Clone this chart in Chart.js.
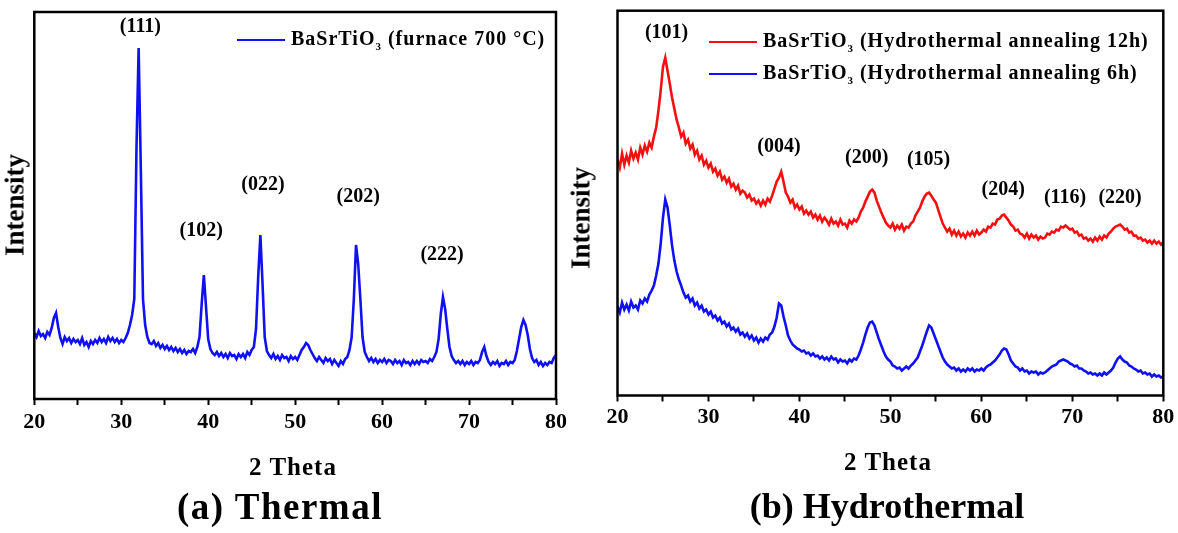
<!DOCTYPE html>
<html>
<head>
<meta charset="utf-8">
<script src="https://cdn.jsdelivr.net/npm/chart.js@4.4.0/dist/chart.umd.min.js"></script>
<style>
  html, body { margin: 0; padding: 0; background: #fff; }
  #wrap { position: relative; width: 1178px; height: 533px; overflow: hidden;
          font-family: "Liberation Serif", "Times New Roman", serif; font-weight: bold; color: #000; }
  canvas { position: absolute; top: 0; }
  .lbl { position: absolute; transform: translate(-50%, -50%); white-space: nowrap; line-height: 1; }
  .rot { transform: translate(-50%, -50%) rotate(-90deg); }
  .leg { position: absolute; white-space: nowrap; font-size: 20px; letter-spacing: 1px; line-height: 20px; transform: translateY(-50%); }
  .leg i { display: inline-block; width: 48px; height: 0; border-top: 2px solid; vertical-align: middle; margin-right: 6px; }
  .leg sub { font-size: 11px; vertical-align: -5px; line-height: 0; }
</style>
</head>
<body>
<div id="wrap">
  <canvas id="thermalChart" width="590" height="533" style="left:0"></canvas>
  <canvas id="hydroChart" width="588" height="533" style="left:590px"></canvas>

  <div class="lbl rot" style="left:15px; top:205px; font-size:27px;">Intensity</div>
  <div class="lbl rot" style="left:581px; top:218px; font-size:27px;">Intensity</div>
  <div class="lbl" style="left:293px; top:466px; font-size:25px; letter-spacing:1px;">2 Theta</div>
  <div class="lbl" style="left:888px; top:461px; font-size:25px; letter-spacing:1px;">2 Theta</div>
  <div class="lbl" style="left:280px; top:506px; font-size:37px; letter-spacing:1.5px;">(a) Thermal</div>
  <div class="lbl" style="left:887px; top:506px; font-size:36px;">(b) Hydrothermal</div>

  <div class="leg" style="left:237px; top:38px;"><i style="color:#1010f4"></i>BaSrTiO<sub>3</sub> (furnace 700 °C)</div>
  <div class="leg" style="left:709px; top:40px;"><i style="color:#f41010"></i>BaSrTiO<sub>3</sub> (Hydrothermal annealing 12h)</div>
  <div class="leg" style="left:709px; top:72px;"><i style="color:#1010f4"></i>BaSrTiO<sub>3</sub> (Hydrothermal annealing 6h)</div>
</div>
<script>
'use strict';

// sampling grid, 2 theta from 20 to 80 in 0.25 steps
const angles = Array.from({ length: 241 }, (_, i) => 20 + i * 0.25);
const xTicks = [20, 30, 40, 50, 60, 70, 80];

// intensities (arbitrary units), one row per degree
const thermal = [
    66, 62, 68, 63,  65, 61, 67, 64,  71, 81, 86, 72,  61, 55, 62, 58,
    61, 56, 60, 57,  59, 55, 61, 54,  57, 52, 58, 55,  59, 56, 61, 57,
    60, 56, 62, 58,  61, 57, 60, 56,  59, 57, 61, 66,  74, 84, 100, 250,
    351, 230, 100, 74,  62, 56, 55, 58,  53, 56, 51, 54,  50, 53, 49, 52,
    48, 51, 47, 50,  46, 49, 45, 48,  47, 50, 46, 52,  62, 95, 124, 92,
    60, 50, 46, 44,  47, 43, 46, 42,  45, 41, 46, 43,  44, 40, 45, 42,
    45, 41, 47, 44,  49, 52, 70, 122,  164, 115, 62, 48,  44, 41, 45, 40,
    43, 39, 44, 41,  42, 38, 43, 40,  42, 39, 44, 49,  52, 56, 54, 49,
    45, 41, 38, 42,  39, 36, 41, 38,  40, 35, 39, 36,  33, 38, 35, 40,
    42, 49, 62, 100,  154, 135, 100, 62,  47, 42, 38, 41,  37, 40, 36, 39,
    37, 40, 36, 39,  38, 35, 39, 36,  38, 34, 39, 36,  37, 34, 38, 35,
    38, 35, 39, 37,  38, 36, 40, 38,  42, 47, 60, 85,  102, 90, 70, 52,
    43, 39, 36, 38,  35, 38, 34, 37,  35, 38, 34, 37,  36, 39, 47, 52,
    43, 37, 34, 37,  35, 38, 33, 36,  35, 38, 34, 37,  36, 39, 48, 60,
    72, 79, 74, 64,  50, 41, 37, 39,  34, 37, 33, 36,  34, 37, 36, 41,
    44
];

const hydro12h = [
    236, 228, 242, 231,  240, 233, 245, 237,  243, 236, 248, 241,  250, 244, 253, 248,
    259, 268, 285, 305,  329, 338, 325, 312,  298, 287, 276, 268,  259, 263, 252, 256,
    247, 251, 241, 245,  236, 240, 231, 235,  228, 232, 224, 227,  220, 224, 216, 219,
    213, 217, 209, 212,  206, 210, 202, 205,  203, 198, 201, 195,  197, 192, 195, 190,
    195, 191, 197, 194,  200, 207, 214, 218,  224, 214, 203, 199,  193, 196, 188, 191,
    186, 189, 182, 185,  181, 184, 178, 181,  176, 180, 174, 178,  175, 171, 177, 172,
    174, 170, 176, 171,  172, 168, 175, 172,  176, 174, 178, 184,  188, 194, 199, 204,
    206, 203, 195, 189,  183, 178, 173, 170,  168, 172, 166, 170,  167, 171, 165, 169,
    168, 172, 174, 180,  184, 188, 194, 199,  202, 203, 200, 196,  193, 186, 179, 172,
    168, 164, 167, 161,  165, 160, 164, 159,  162, 158, 163, 160,  164, 160, 165, 161,
    163, 166, 164, 169,  168, 172, 171, 176,  177, 180, 181, 178,  175, 171, 169, 165,
    166, 162, 161, 158,  162, 157, 161, 158,  160, 156, 159, 157,  158, 162, 161, 164,
    163, 166, 165, 169,  168, 170, 168, 166,  167, 163, 164, 160,  161, 157, 158, 155,
    157, 154, 158, 155,  159, 156, 160, 158,  162, 164, 167, 169,  170, 171, 169, 166,
    167, 163, 164, 160,  160, 157, 158, 155,  156, 153, 155, 152,  155, 152, 154, 151,
    153
];

const hydro6h = [
    89, 83, 93, 86,  91, 85, 94, 88,  90, 86, 95, 92,  97, 94, 101, 105,
    110, 120, 132, 152,  178, 196, 188, 170,  150, 135, 124, 116,  110, 103, 98, 100,
    94, 97, 90, 93,  87, 90, 84, 86,  81, 84, 78, 80,  75, 78, 72, 74,
    69, 72, 66, 68,  64, 67, 61, 63,  59, 62, 57, 60,  55, 58, 53, 57,
    54, 58, 56, 61,  63, 69, 78, 92,  90, 79, 70, 60,  55, 51, 49, 47,
    46, 44, 45, 42,  43, 40, 42, 39,  40, 37, 39, 36,  38, 35, 39, 36,
    37, 33, 36, 34,  35, 32, 36, 34,  37, 36, 40, 46,  53, 61, 68, 73,
    74, 70, 63, 56,  50, 44, 39, 36,  34, 30, 29, 27,  28, 25, 27, 29,
    27, 30, 32, 35,  38, 44, 50, 57,  64, 70, 68, 62,  56, 50, 44, 38,
    34, 31, 29, 27,  28, 25, 27, 24,  26, 24, 27, 25,  27, 24, 26, 25,
    27, 25, 28, 30,  31, 33, 35, 38,  41, 45, 47, 46,  41, 35, 32, 29,
    28, 25, 27, 24,  25, 22, 24, 23,  24, 21, 23, 22,  23, 25, 27, 29,
    30, 31, 34, 35,  36, 35, 34, 32,  31, 29, 30, 27,  27, 25, 24, 22,
    23, 21, 22, 20,  22, 20, 23, 21,  23, 25, 28, 33,  37, 39, 36, 34,
    33, 30, 29, 27,  26, 24, 25, 22,  23, 21, 22, 19,  21, 19, 20, 18,
    19
];

const thermalPeaks = ['(111)', '(102)', '(022)', '(202)', '(222)'];
const thermalPeakAt = [32.2, 39.2, 46.3, 57.25, 66.9];
const thermalPeakLevel = [372, 168, 214, 202, 144];

const hydroPeaks = ['(101)', '(004)', '(200)', '(105)', '(204)', '(116)', '(220)'];
const hydroPeakAt = [25.4, 37.75, 47.4, 54.2, 62.4, 69.2, 75.25];
const hydroPeakLevel = [363, 249, 238, 236, 206, 198, 198];

const FONT = '"Liberation Serif", "Times New Roman", serif';

const framePlugin = {
    id: 'frame',
    afterDatasetsDraw(chart) {
        const { ctx, chartArea: a } = chart;
        ctx.save();
        ctx.strokeStyle = '#000';
        ctx.lineWidth = 2.5;
        ctx.strokeRect(a.left, a.top, a.right - a.left, a.bottom - a.top);
        ctx.restore();
    }
};

const peakLabelPlugin = {
    id: 'peakLabels',
    afterDatasetsDraw(chart, args, opts) {
        const { ctx, scales: { x, y } } = chart;
        ctx.save();
        ctx.font = 'bold 20px ' + FONT;
        ctx.fillStyle = '#000';
        ctx.textAlign = 'center';
        ctx.textBaseline = 'middle';
        opts.labels.forEach((t, i) => {
            ctx.fillText(t, x.getPixelForValue(opts.at[i]), y.getPixelForValue(opts.level[i]));
        });
        ctx.restore();
    }
};

function toPoints(values) {
    return values.map((v, i) => ({ x: angles[i], y: v }));
}

function lineSet(values, color) {
    return {
        data: toPoints(values),
        borderColor: color,
        borderWidth: 2.6,
        borderJoinStyle: 'miter',
        pointRadius: 0,
        tension: 0,
        fill: false
    };
}

function makeChart(id, datasets, yMax, padding, axisHeight, tickPad, peaks) {
    return new Chart(document.getElementById(id), {
        type: 'line',
        data: { datasets: datasets },
        options: {
            responsive: false,
            animation: false,
            devicePixelRatio: 1,
            layout: { padding: padding },
            plugins: {
                legend: { display: false },
                tooltip: { enabled: false },
                peakLabels: peaks
            },
            scales: {
                x: {
                    type: 'linear',
                    min: 20,
                    max: 80,
                    afterFit: s => { s.height = axisHeight; },
                    ticks: {
                        stepSize: 5,
                        autoSkip: false,
                        maxRotation: 0,
                        padding: tickPad,
                        color: '#000',
                        font: { family: FONT, size: 22, weight: 'bold' },
                        callback: v => xTicks.includes(v) ? String(v) : ''
                    },
                    grid: {
                        display: true,
                        drawOnChartArea: false,
                        drawTicks: true,
                        tickLength: 6,
                        tickWidth: 2,
                        tickColor: '#000'
                    },
                    border: { display: false }
                },
                y: { display: false, min: 0, max: yMax }
            }
        },
        plugins: [framePlugin, peakLabelPlugin]
    });
}

makeChart('thermalChart',
    [lineSet(thermal, '#1010f4')],
    387,
    { left: 34.3, right: 34, top: 12, bottom: 0 },
    134, 4,
    { labels: thermalPeaks, at: thermalPeakAt, level: thermalPeakLevel });

makeChart('hydroChart',
    [lineSet(hydro12h, '#f41010'), lineSet(hydro6h, '#1010f4')],
    385,
    { left: 27.5, right: 14.7, top: 10.7, bottom: 0 },
    137.5, 3,
    { labels: hydroPeaks, at: hydroPeakAt, level: hydroPeakLevel });
</script>
</body>
</html>
